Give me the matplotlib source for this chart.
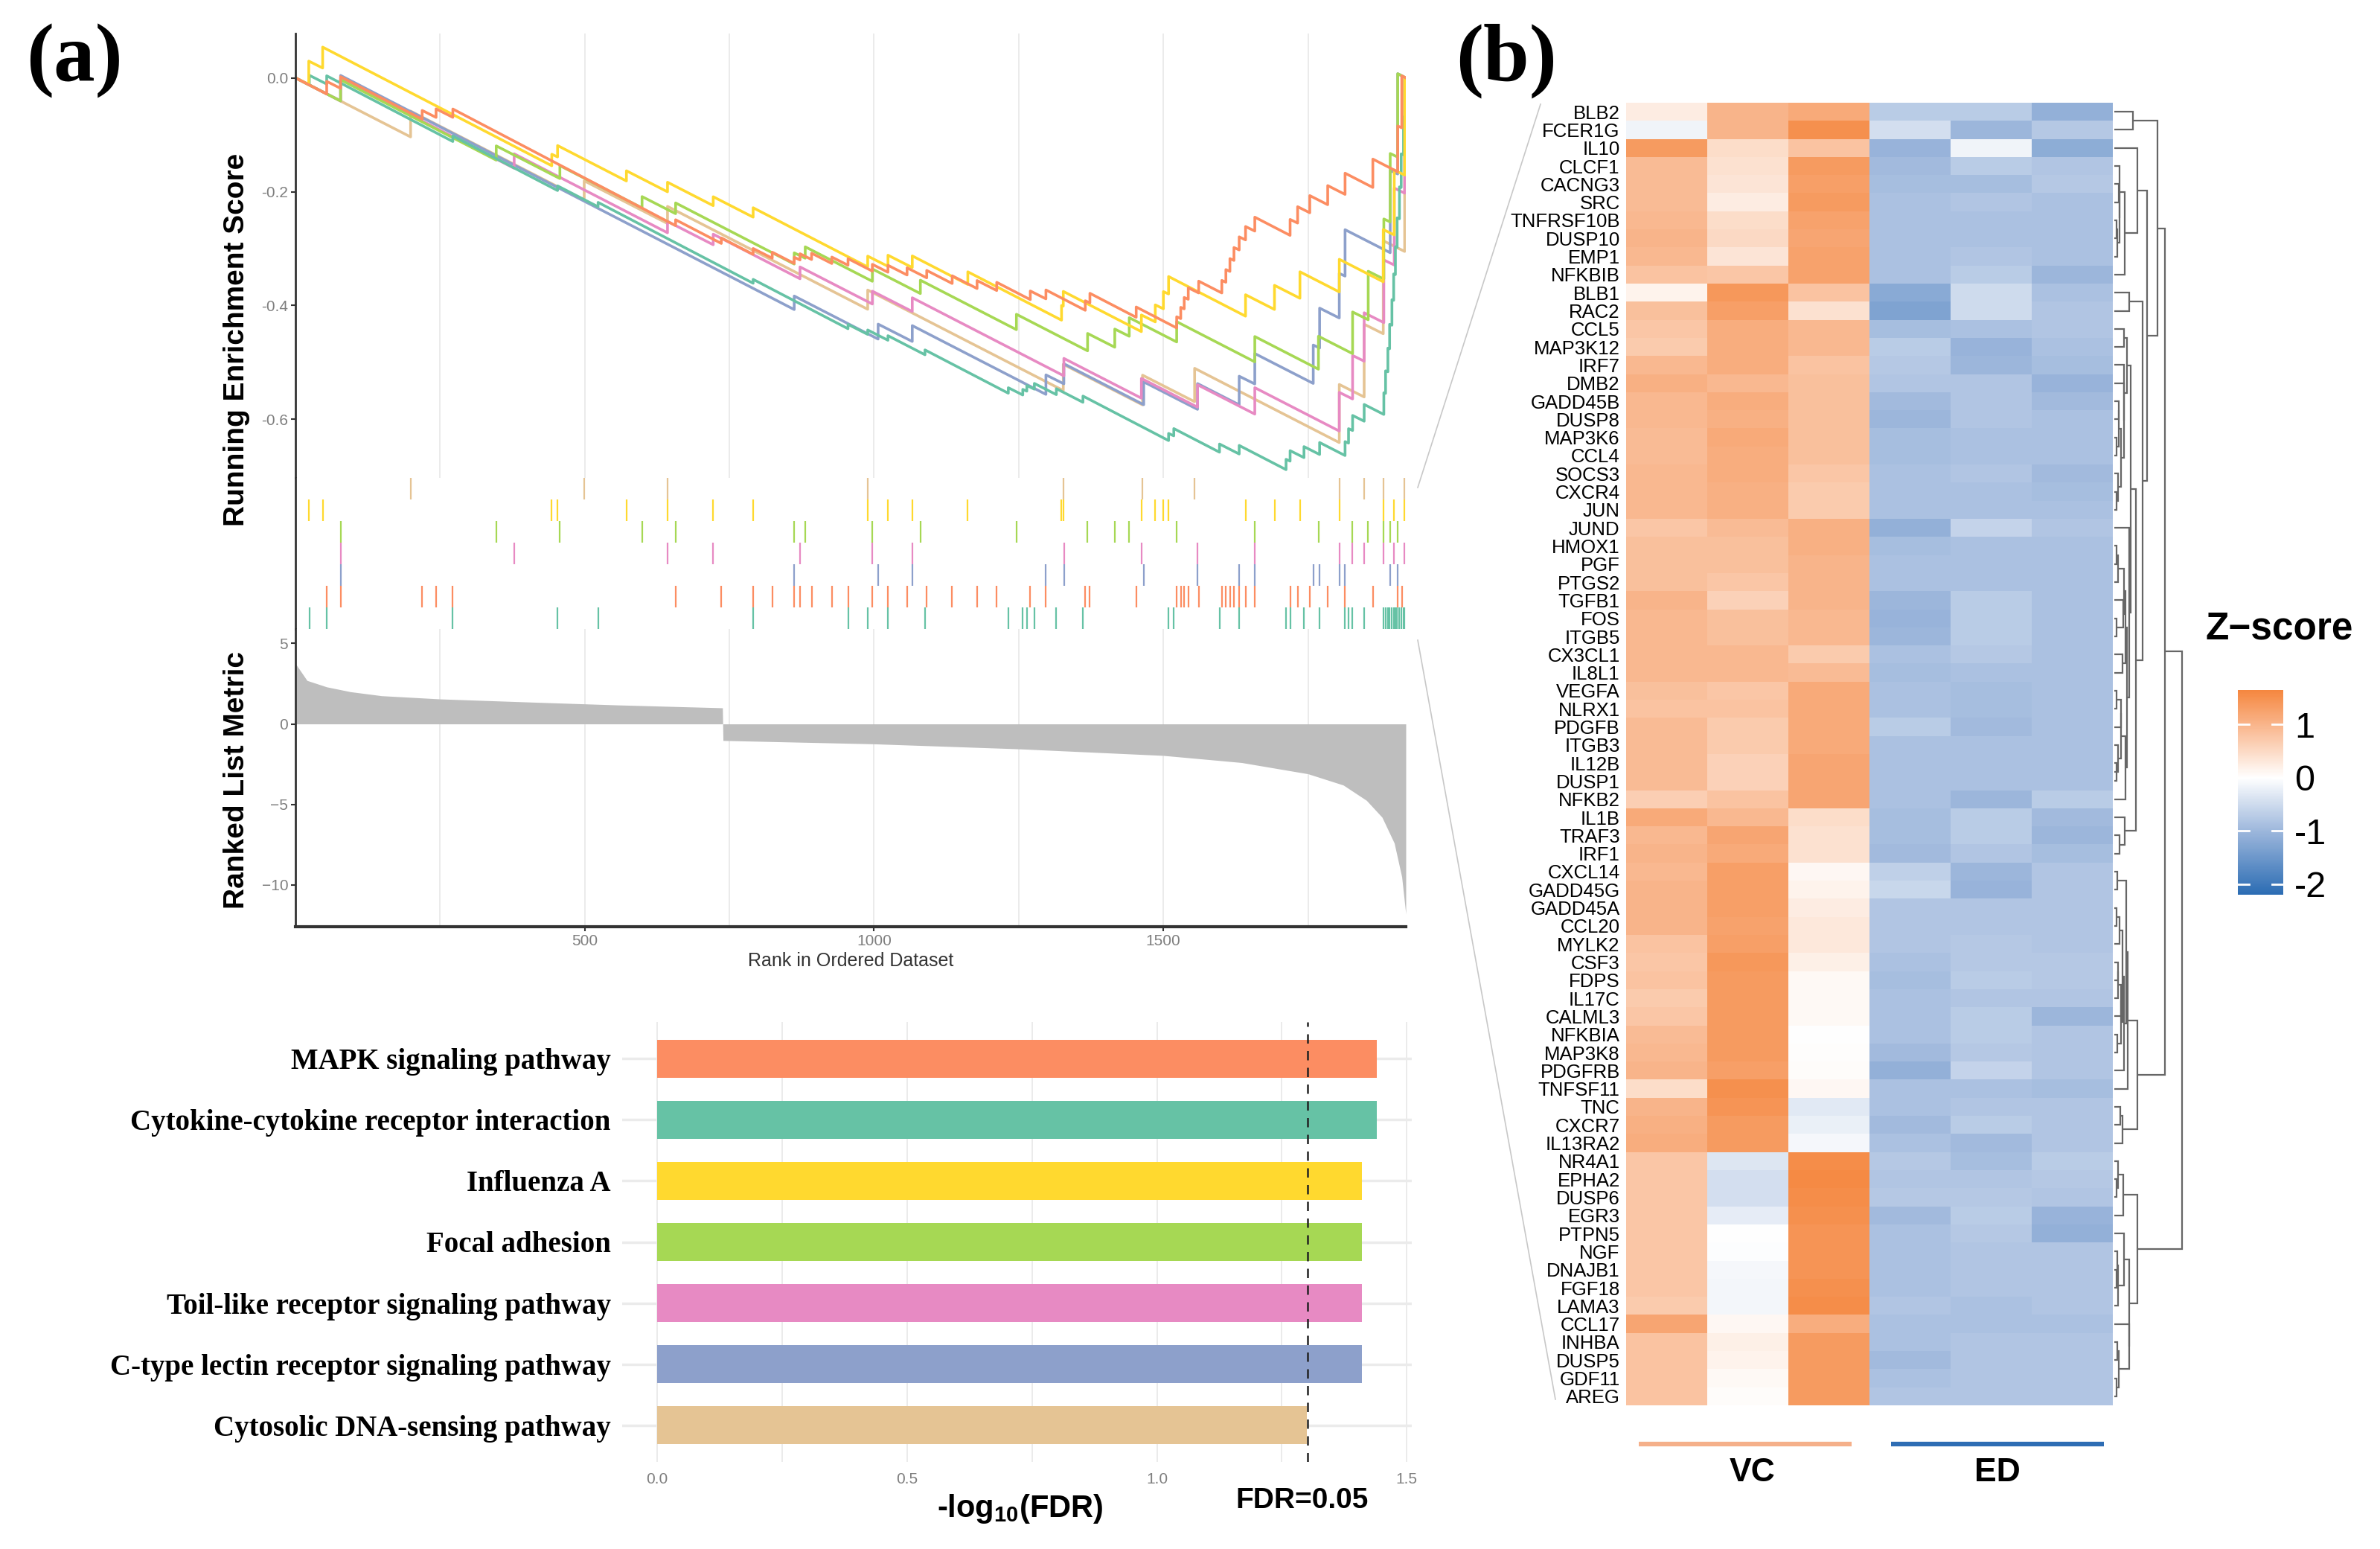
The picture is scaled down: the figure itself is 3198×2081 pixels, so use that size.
import numpy as np
import matplotlib
matplotlib.use("Agg")
import matplotlib.pyplot as plt
from matplotlib.colors import LinearSegmentedColormap, Normalize
from matplotlib.lines import Line2D

plt.rcParams['font.family'] = ['Liberation Sans', 'DejaVu Sans']
plt.rcParams['mathtext.fontset'] = 'custom'
plt.rcParams['mathtext.rm'] = 'Liberation Sans'
plt.rcParams['mathtext.bf'] = 'Liberation Sans:bold'

# ==========================================
# data
# ==========================================
N_GENES = 1919

# ranked list metric (rank, value) read along the grey area
METRIC_RANK = [1, 20, 54, 95, 149, 250, 419, 554, 738, 739, 1000, 1250,
               1500, 1635, 1750, 1811, 1851, 1878, 1899, 1912, 1919]
METRIC_VALUE = [3.7, 2.7, 2.3, 2.0, 1.75, 1.55, 1.34, 1.18, 1.0, -1.03, -1.24, -1.55,
                -1.96, -2.4, -3.1, -3.8, -4.75, -5.8, -7.4, -9.5, -11.8]

# hit positions (rank) for every pathway
HITS_MAPK = [54, 78, 219, 243, 272, 657, 736, 791, 824, 862, 872, 892, 927, 955, 997,
             1024, 1057, 1091, 1135, 1178, 1212, 1270, 1297, 1365, 1373, 1453, 1523,
             1530, 1536, 1543, 1561, 1601, 1608, 1615, 1622, 1631, 1642, 1658, 1719,
             1732, 1753, 1784, 1814, 1862, 1905, 1912]
HITS_CYTOKINE = [24, 54, 272, 453, 523, 791, 955, 989, 1024, 1088, 1232, 1257, 1264,
                 1277, 1315, 1361, 1509, 1518, 1597, 1631, 1712, 1719, 1743, 1770, 1814,
                 1820, 1827, 1847, 1881, 1884, 1888, 1891, 1895, 1898, 1901, 1904, 1908,
                 1911, 1915, 1917]
HITS_INFLUENZA = [23, 47, 443, 453, 572, 643, 722, 791, 989, 1024, 1066, 1162, 1324,
                  1327, 1462, 1486, 1500, 1509, 1642, 1692, 1736, 1804, 1880, 1899, 1917]
HITS_FOCAL = [78, 347, 457, 599, 657, 862, 881, 997, 1080, 1246, 1369, 1416, 1441,
              1523, 1658, 1768, 1827, 1854, 1881, 1892, 1905]
HITS_TOLL = [78, 378, 643, 722, 872, 997, 1066, 1328, 1462, 1559, 1658, 1804, 1827,
             1847, 1881, 1899, 1917]
HITS_CTYPE = [78, 862, 1007, 1066, 1297, 1328, 1466, 1559, 1631, 1658, 1759, 1770,
              1804, 1814, 1892, 1905]
HITS_CYTOSOLIC = [199, 499, 643, 989, 1327, 1464, 1554, 1804, 1847, 1880, 1917]

PATHWAYS = ["MAPK signaling pathway",
            "Cytokine-cytokine receptor interaction",
            "Influenza A",
            "Focal adhesion",
            "Toil-like receptor signaling pathway",
            "C-type lectin receptor signaling pathway",
            "Cytosolic DNA-sensing pathway"]
NEG_LOG_FDR = [1.44, 1.44, 1.41, 1.41, 1.41, 1.41, 1.30]
PATH_COLORS = ["#FC8D62", "#66C2A5", "#FFD92F", "#A6D854", "#E78AC3", "#8DA0CB", "#E5C494"]
PATH_HITS = [HITS_MAPK, HITS_CYTOKINE, HITS_INFLUENZA, HITS_FOCAL, HITS_TOLL,
             HITS_CTYPE, HITS_CYTOSOLIC]
HIT_ROW_ORDER = [6, 2, 3, 4, 5, 0, 1]       # top -> bottom in the hit strip
ES_DRAW_ORDER = [6, 5, 4, 3, 1, 2, 0]

GENES = ["BLB2", "FCER1G", "IL10", "CLCF1", "CACNG3", "SRC", "TNFRSF10B", "DUSP10",
         "EMP1", "NFKBIB", "BLB1", "RAC2", "CCL5", "MAP3K12", "IRF7", "DMB2", "GADD45B",
         "DUSP8", "MAP3K6", "CCL4", "SOCS3", "CXCR4", "JUN", "JUND", "HMOX1", "PGF",
         "PTGS2", "TGFB1", "FOS", "ITGB5", "CX3CL1", "IL8L1", "VEGFA", "NLRX1", "PDGFB",
         "ITGB3", "IL12B", "DUSP1", "NFKB2", "IL1B", "TRAF3", "IRF1", "CXCL14", "GADD45G",
         "GADD45A", "CCL20", "MYLK2", "CSF3", "FDPS", "IL17C", "CALML3", "NFKBIA",
         "MAP3K8", "PDGFRB", "TNFSF11", "TNC", "CXCR7", "IL13RA2", "NR4A1", "EPHA2",
         "DUSP6", "EGR3", "PTPN5", "NGF", "DNAJB1", "FGF18", "LAMA3", "CCL17", "INHBA",
         "DUSP5", "GDF11", "AREG"]

VC_1 = [0.25, -0.15, 1.35, 0.9, 0.9, 0.9, 0.95, 1.0, 0.95, 0.8,
        0.15, 0.85, 0.75, 0.7, 0.95, 1.05, 0.95, 0.95, 0.9, 0.9,
        0.95, 0.95, 0.95, 0.75, 0.85, 0.85, 0.85, 1.0, 0.95, 0.95,
        0.95, 0.95, 0.85, 0.8, 0.9, 0.9, 0.9, 0.9, 0.65, 1.15,
        0.95, 1.0, 0.95, 1.0, 1.0, 1.0, 0.8, 0.75, 0.8, 0.7,
        0.75, 0.9, 0.95, 1.0, 0.45, 1.0, 1.05, 1.1, 0.75, 0.75,
        0.75, 0.75, 0.75, 0.75, 0.75, 0.75, 0.7, 1.2, 0.8, 0.8,
        0.8, 0.8]
VC_2 = [1.0, 1.0, 0.45, 0.4, 0.35, 0.25, 0.45, 0.5, 0.35, 0.75,
        1.4, 1.3, 1.1, 1.1, 1.1, 0.95, 1.1, 1.05, 1.15, 1.1,
        1.1, 1.05, 1.05, 0.9, 0.85, 0.85, 0.75, 0.6, 0.85, 0.85,
        0.95, 0.95, 0.75, 0.8, 0.7, 0.7, 0.6, 0.6, 0.8, 0.95,
        1.2, 1.15, 1.3, 1.3, 1.3, 1.25, 1.3, 1.4, 1.35, 1.35,
        1.35, 1.35, 1.35, 1.3, 1.5, 1.45, 1.35, 1.35, -0.35, -0.45,
        -0.45, -0.25, 0.0, -0.02, -0.1, -0.12, -0.12, 0.1, 0.2, 0.15,
        0.08, 0.03]
VC_3 = [1.15, 1.5, 0.8, 1.35, 1.3, 1.35, 1.25, 1.2, 1.25, 1.25,
        0.8, 0.4, 0.95, 0.95, 0.8, 0.85, 0.85, 0.85, 0.85, 0.85,
        0.75, 0.7, 0.7, 1.05, 1.05, 1.0, 1.0, 1.0, 0.95, 0.95,
        0.7, 0.9, 1.15, 1.15, 1.15, 1.15, 1.2, 1.2, 1.2, 0.45,
        0.4, 0.4, 0.1, 0.15, 0.25, 0.3, 0.3, 0.2, 0.08, 0.08,
        0.08, 0.0, 0.02, 0.03, 0.1, -0.3, -0.2, -0.1, 1.55, 1.6,
        1.55, 1.5, 1.45, 1.45, 1.45, 1.5, 1.55, 1.1, 1.35, 1.35,
        1.35, 1.35]
ED_1 = [-0.7, -0.45, -1.05, -0.95, -0.9, -0.85, -0.85, -0.85, -0.85, -0.85,
        -1.2, -1.3, -0.9, -0.7, -0.75, -0.8, -0.95, -1.0, -0.9, -0.9,
        -0.85, -0.85, -0.85, -1.1, -0.9, -0.85, -0.85, -1.0, -1.05, -1.0,
        -0.85, -0.9, -0.85, -0.85, -0.7, -0.85, -0.85, -0.85, -0.85, -0.9,
        -0.9, -0.95, -0.65, -0.55, -0.8, -0.8, -0.8, -0.85, -0.9, -0.85,
        -0.85, -0.85, -0.95, -1.1, -0.85, -0.85, -0.95, -0.85, -0.75, -0.8,
        -0.75, -0.95, -0.85, -0.85, -0.85, -0.85, -0.8, -0.85, -0.85, -0.95,
        -0.85, -0.8]
ED_2 = [-0.7, -1.0, -0.15, -0.7, -0.9, -0.8, -0.85, -0.85, -0.8, -0.7,
        -0.5, -0.5, -0.85, -1.05, -1.0, -0.8, -0.8, -0.8, -0.85, -0.85,
        -0.8, -0.85, -0.85, -0.6, -0.85, -0.85, -0.85, -0.7, -0.7, -0.7,
        -0.75, -0.85, -0.9, -0.9, -0.95, -0.85, -0.85, -0.85, -1.0, -0.7,
        -0.7, -0.8, -1.0, -1.05, -0.8, -0.8, -0.75, -0.75, -0.7, -0.8,
        -0.7, -0.7, -0.75, -0.6, -0.85, -0.8, -0.7, -0.95, -0.9, -0.8,
        -0.75, -0.7, -0.75, -0.8, -0.8, -0.8, -0.85, -0.85, -0.8, -0.8,
        -0.8, -0.8]
ED_3 = [-1.1, -0.75, -1.15, -0.8, -0.75, -0.85, -0.85, -0.85, -0.85, -1.0,
        -0.85, -0.8, -0.8, -0.85, -0.9, -1.05, -0.95, -0.85, -0.85, -0.85,
        -0.95, -0.9, -0.85, -0.8, -0.85, -0.85, -0.85, -0.85, -0.85, -0.85,
        -0.85, -0.85, -0.85, -0.85, -0.85, -0.85, -0.85, -0.85, -0.7, -0.95,
        -1.0, -0.9, -0.8, -0.8, -0.8, -0.8, -0.8, -0.75, -0.75, -0.8,
        -1.0, -0.8, -0.8, -0.8, -0.9, -0.8, -0.8, -0.8, -0.7, -0.75,
        -0.8, -1.05, -1.1, -0.8, -0.8, -0.8, -0.8, -0.85, -0.8, -0.8,
        -0.8, -0.8]

# row dendrogram: [height, left, right];
# int = single row, (first, last, top) = block clustered from its rows
ROW_TREE = [1.00,
            [0.75,
             [0.64, (1, 2, 0.28),
              [0.48, [0.34, 3, (4, 10, 0.16)],
               [0.42, (11, 12, 0.22),
                [0.32, (13, 39, 0.24), (40, 42, 0.15)]]]],
             [0.34, (43, 55, 0.2), (56, 58, 0.12)]],
            [0.34, (59, 62, 0.13), (63, 72, 0.22)]]

Z = np.column_stack([VC_1, VC_2, VC_3, ED_1, ED_2, ED_3])

# ==========================================
# figure / helpers
# ==========================================
W, H = 3198, 2081
fig = plt.figure(figsize=(W / 100, H / 100), dpi=100)


def add_ax(l, t, r, b):
    return fig.add_axes([l / W, 1 - b / H, (r - l) / W, (b - t) / H])


def running_es(hits):
    hits = np.array(sorted(hits), dtype=float)
    w = np.abs(np.interp(hits, METRIC_RANK, METRIC_VALUE))
    w = w / w.sum()
    miss = 1.0 / (N_GENES - len(hits))
    xs, ys = [0.0], [0.0]
    es, prev = 0.0, 0.0
    for h, wi in zip(hits, w):
        es -= miss * (h - prev - 1)
        xs.append(h); ys.append(es)
        es += wi
        xs.append(h); ys.append(es)
        prev = h
    es -= miss * (N_GENES - prev)
    xs.append(N_GENES); ys.append(es)
    return xs, ys


GRID_C = "#EBEBEB"
TICK_C = "#7F7F7F"
SPINE_C = "#333333"
NARROW = ["Liberation Sans Narrow", "Liberation Sans", "DejaVu Sans"]

# ==========================================
# (a) running enrichment score
# ==========================================
ax_es = add_ax(397, 45, 1889, 642)
for g in range(250, N_GENES, 250):
    ax_es.axvline(g, color=GRID_C, lw=1.4, zorder=0)
for i in ES_DRAW_ORDER:
    xs, ys = running_es(PATH_HITS[i])
    ax_es.plot(xs, ys, color=PATH_COLORS[i], lw=2.6)
ax_es.set_xlim(0, N_GENES)
ax_es.set_ylim(-0.703, 0.078)
ax_es.set_xticks([])
ax_es.set_yticks([0, -0.2, -0.4, -0.6])
ax_es.set_yticklabels(["0.0", "-0.2", "-0.4", "-0.6"])
for s in ["top", "right", "bottom"]:
    ax_es.spines[s].set_visible(False)
ax_es.spines["left"].set_color(SPINE_C)
ax_es.spines["left"].set_linewidth(2)
ax_es.tick_params(axis="y", labelsize=15, labelcolor=TICK_C, color=SPINE_C,
                  length=4, width=1.5, pad=3)

# hit strip
ax_hit = add_ax(397, 642, 1889, 845)
for row, i in enumerate(HIT_ROW_ORDER):
    top = 7 - row
    ax_hit.vlines(PATH_HITS[i], top - 1, top, color=PATH_COLORS[i], lw=1.6)
ax_hit.set_xlim(0, N_GENES)
ax_hit.set_ylim(0, 7)
ax_hit.set_xticks([]); ax_hit.set_yticks([])
for s in ["top", "right", "bottom"]:
    ax_hit.spines[s].set_visible(False)
ax_hit.spines["left"].set_color(SPINE_C)
ax_hit.spines["left"].set_linewidth(2)

# ranked list metric
ax_m = add_ax(397, 845, 1889, 1245)
for g in range(250, N_GENES, 250):
    ax_m.axvline(g, color=GRID_C, lw=1.4, zorder=0)
ax_m.fill_between(METRIC_RANK, 0, METRIC_VALUE, color="#BEBEBE", lw=0, zorder=2)
ax_m.set_xlim(0, N_GENES)
ax_m.set_ylim(-12.6, 5.9)
ax_m.set_xticks([500, 1000, 1500])
ax_m.set_yticks([5, 0, -5, -10])
for s in ["top", "right"]:
    ax_m.spines[s].set_visible(False)
ax_m.spines["left"].set_color(SPINE_C)
ax_m.spines["left"].set_linewidth(2)
ax_m.spines["bottom"].set_color(SPINE_C)
ax_m.spines["bottom"].set_linewidth(3)
ax_m.tick_params(labelsize=15, labelcolor=TICK_C, color=SPINE_C, length=4, width=1.5, pad=3)
ax_m.set_xlabel("Rank in Ordered Dataset", fontsize=18, color="#333333", labelpad=4)

fig.text(318 / W, 1 - 456 / H, "Running Enrichment Score", rotation=90, fontsize=28,
         fontweight="bold", ha="center", va="center")
fig.text(318 / W, 1 - 1048 / H, "Ranked List Metric", rotation=90, fontsize=28,
         fontweight="bold", ha="center", va="center")

# connector lines towards the heatmap
for (x0, y0), (x1, y1) in [((1905, 655), (2070, 140)), ((1905, 860), (2090, 1880))]:
    fig.add_artist(Line2D([x0 / W, x1 / W], [1 - y0 / H, 1 - y1 / H],
                          transform=fig.transFigure, color="#C8C8C8", lw=1.2))

# ==========================================
# (a) bar chart of -log10(FDR)
# ==========================================
ax_b = add_ax(836, 1373, 1897, 1964)
ypos = np.arange(len(PATHWAYS))
ax_b.set_axisbelow(True)
for g in np.arange(0, 1.51, 0.25):
    ax_b.axvline(g, color=GRID_C, lw=1.4, zorder=0)
for y in ypos:
    ax_b.axhline(y, color=GRID_C, lw=2.5, zorder=0)
ax_b.barh(ypos, NEG_LOG_FDR, height=0.62, color=PATH_COLORS, zorder=2)
ax_b.axvline(-np.log10(0.05), color="#222222", lw=1.8, ls=(0, (5, 4)), zorder=3)
ax_b.set_xlim(-0.07, 1.51)
ax_b.set_ylim(6.6, -0.6)
ax_b.set_xticks([0, 0.5, 1.0, 1.5])
ax_b.set_xticklabels(["0.0", "0.5", "1.0", "1.5"])
ax_b.set_yticks(ypos)
ax_b.set_yticklabels(PATHWAYS, fontfamily="Liberation Serif", fontweight="bold", fontsize=28)
ax_b.tick_params(axis="y", length=0, pad=11)
ax_b.tick_params(axis="x", length=0, pad=10, labelsize=15, labelcolor=TICK_C)
for s in ax_b.spines.values():
    s.set_visible(False)
fig.text(1371 / W, 1 - 2027 / H, r"-log$_{\mathbf{10}}$(FDR)", fontsize=30, fontweight="bold",
         ha="center", va="center")
fig.text(1750 / W, 1 - 2016 / H, "FDR=0.05", fontsize=28, fontweight="bold",
         ha="center", va="center")

# ==========================================
# (b) heatmap
# ==========================================
VMIN, VMAX = -2.2, 1.65
stops = [(-2.2, "#2B6CB3"), (-1.0, "#9DB7DC"), (0.0, "#FFFFFF"), (1.0, "#F9B58B"), (1.65, "#F5873F")]
cmap = LinearSegmentedColormap.from_list(
    "zs", [((v - VMIN) / (VMAX - VMIN), c) for v, c in stops])
norm = Normalize(VMIN, VMAX)

ax_h = add_ax(2185, 138, 2839, 1888)
im = ax_h.imshow(Z, cmap=cmap, norm=norm, aspect="auto", interpolation="nearest")
ax_h.set_xticks([])
ax_h.set_yticks(np.arange(len(GENES)))
ax_h.set_yticklabels(GENES, fontsize=18.5, fontfamily=NARROW)
ax_h.tick_params(axis="y", length=0, pad=6)
for s in ax_h.spines.values():
    s.set_visible(False)

# row dendrogram
ax_d = add_ax(2839, 138, 2935, 1888)
DEND_C = "#666666"


def draw_link(p1, h1, p2, h2, h):
    ax_d.plot([h1, h, h, h2], [p1, p1, p2, p2], color=DEND_C, lw=1.6,
              solid_joinstyle="miter", solid_capstyle="butt")


def block_cluster(first, last, top):
    groups = [[i] for i in range(first - 1, last)]
    nodes = [(float(i), 0.0) for i in range(first - 1, last)]
    links = []
    while len(groups) > 1:
        d = [np.mean([np.linalg.norm(Z[a] - Z[b]) for a in groups[k] for b in groups[k + 1]])
             for k in range(len(groups) - 1)]
        k = int(np.argmin(d))
        hk = max(d[k], nodes[k][1], nodes[k + 1][1])
        links.append((nodes[k], nodes[k + 1], hk))
        nodes[k:k + 2] = [((nodes[k][0] + nodes[k + 1][0]) / 2, hk)]
        groups[k:k + 2] = [groups[k] + groups[k + 1]]
    if not links:
        return nodes[0]
    final = links[-1][2] if links[-1][2] > 0 else 1.0
    sc = lambda v: 0.0 if v == 0 else max(top * v / final, 0.035)
    for (p1, h1), (p2, h2), hk in links:
        hh = max(sc(hk), 0.035)
        draw_link(p1, sc(h1), p2, sc(h2), hh)
    return nodes[0][0], top


def build_tree(node):
    if isinstance(node, int):
        return float(node - 1), 0.0
    if isinstance(node, tuple):
        return block_cluster(*node)
    h, left, right = node
    p1, h1 = build_tree(left)
    p2, h2 = build_tree(right)
    draw_link(p1, h1, p2, h2, h)
    return (p1 + p2) / 2, h


build_tree(ROW_TREE)
ax_d.set_xlim(-0.02, 1.03)
ax_d.set_ylim(len(GENES) - 0.5, -0.5)
ax_d.axis("off")

# colour key
cax = add_ax(3007, 927, 3068, 1202)
cb = fig.colorbar(im, cax=cax, ticks=[1, 0, -1, -2])
cb.outline.set_visible(False)
cb.ax.set_yticklabels(["1", "0", "-1", "-2"])
cb.ax.tick_params(length=0, labelsize=35, pad=11)
for v in [1, 0, -1, -2]:
    cax.axhline(v, 0, 0.25, color="white", lw=2)
    cax.axhline(v, 0.75, 1, color="white", lw=2)
fig.text(3063 / W, 1 - 845 / H, "Z\u2212score", fontsize=37, fontweight="bold",
         ha="center", va="center")

# group bars under the heatmap
fig.add_artist(Line2D([2202 / W, 2488 / W], [1 - 1940 / H] * 2, transform=fig.transFigure,
                      color="#F5B08A", lw=4.5, solid_capstyle="butt"))
fig.add_artist(Line2D([2541 / W, 2827 / W], [1 - 1940 / H] * 2, transform=fig.transFigure,
                      color="#2E6DB4", lw=4.5, solid_capstyle="butt"))
fig.text(2355 / W, 1 - 1979 / H, "VC", fontsize=32, fontweight="bold", ha="center", va="center")
fig.text(2684 / W, 1 - 1979 / H, "ED", fontsize=32, fontweight="bold", ha="center", va="center")

# panel labels
fig.text(100 / W, 1 - 82 / H, "(a)", fontsize=80, fontweight="bold",
         fontfamily="Liberation Serif", ha="center", va="center")
fig.text(2024 / W, 1 - 82 / H, "(b)", fontsize=80, fontweight="bold",
         fontfamily="Liberation Serif", ha="center", va="center")

fig.savefig("out.png", dpi=100, facecolor="white")
